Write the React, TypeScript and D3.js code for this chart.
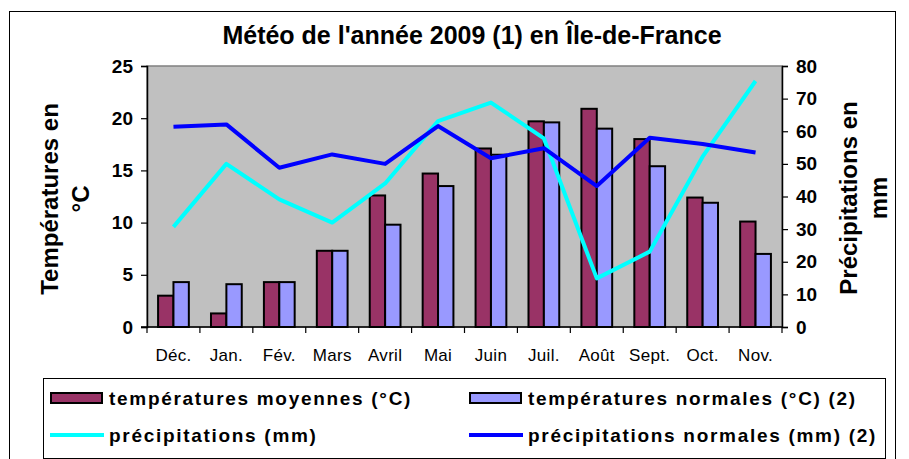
import React, { useEffect, useRef } from 'react';
import * as d3 from 'd3';

const months = ['Déc.', 'Jan.', 'Fév.', 'Mars', 'Avril', 'Mai', 'Juin', 'Juil.', 'Août', 'Sept.', 'Oct.', 'Nov.'];
const tempMoy = [3.0, 1.3, 4.3, 7.3, 12.6, 14.7, 17.1, 19.7, 20.9, 18.0, 12.4, 10.1];
const tempNorm = [4.3, 4.1, 4.3, 7.3, 9.8, 13.5, 16.5, 19.6, 19.0, 15.4, 11.9, 7.0];
const precip = [30.7, 50.0, 39.1, 32.0, 44.0, 63.1, 68.8, 57.8, 14.9, 23.1, 52.2, 75.4];
const precipNorm = [61.4, 62.1, 48.8, 52.9, 50.0, 61.6, 51.7, 54.8, 43.2, 58.0, 56.1, 53.5];
const tempTicks = [0, 5, 10, 15, 20, 25];
const precipTicks = [0, 10, 20, 30, 40, 50, 60, 70, 80];

const FONT = '"Liberation Sans", Arial, sans-serif';

const App: React.FC = () => {
  const svgRef = useRef<SVGSVGElement>(null);

  useEffect(() => {
    if (!svgRef.current) return;
    const svg = d3.select(svgRef.current);
    svg.selectAll('*').remove();

    const plot = { left: 147, right: 782, top: 66, bottom: 327 };

    // chart frame
    svg.append('rect')
      .attr('x', 9.5).attr('y', 11.5).attr('width', 886).attr('height', 460)
      .attr('fill', 'white').attr('stroke', 'black').attr('stroke-width', 1);

    svg.append('text')
      .attr('x', 472).attr('y', 44)
      .attr('text-anchor', 'middle')
      .attr('font-family', FONT).attr('font-weight', 700).attr('font-size', 25)
      .text("Météo de l'année 2009 (1) en Île-de-France");

    const x = d3.scaleBand<string>().domain(months).range([plot.left, plot.right]);
    const xInner = d3.scaleBand<string>().domain(['moy', 'norm'])
      .range([0, x.bandwidth()]).paddingOuter(0.72).paddingInner(0);
    const yT = d3.scaleLinear().domain([0, 25]).range([plot.bottom, plot.top]);
    const yP = d3.scaleLinear().domain([0, 80]).range([plot.bottom, plot.top]);

    // plot area
    svg.append('rect')
      .attr('x', plot.left).attr('y', plot.top)
      .attr('width', plot.right - plot.left).attr('height', plot.bottom - plot.top)
      .attr('fill', '#C0C0C0').attr('stroke', '#808080').attr('stroke-width', 1.5);

    // bars
    const groups = svg.append('g').selectAll('g').data(months).enter().append('g')
      .attr('transform', d => `translate(${x(d)},0)`);
    groups.append('rect')
      .attr('x', xInner('moy')!)
      .attr('y', (_, i) => yT(tempMoy[i]))
      .attr('width', xInner.bandwidth())
      .attr('height', (_, i) => yT(0) - yT(tempMoy[i]))
      .attr('fill', '#993366').attr('stroke', 'black').attr('stroke-width', 2);
    groups.append('rect')
      .attr('x', xInner('norm')!)
      .attr('y', (_, i) => yT(tempNorm[i]))
      .attr('width', xInner.bandwidth())
      .attr('height', (_, i) => yT(0) - yT(tempNorm[i]))
      .attr('fill', '#9999FF').attr('stroke', 'black').attr('stroke-width', 2);

    // lines
    const line = d3.line<number>()
      .x((_, i) => x(months[i])! + x.bandwidth() / 2)
      .y(d => yP(d));
    svg.append('path').datum(precip)
      .attr('fill', 'none').attr('stroke', '#00FFFF').attr('stroke-width', 4)
      .attr('stroke-linejoin', 'round').attr('d', line);
    svg.append('path').datum(precipNorm)
      .attr('fill', 'none').attr('stroke', '#0000FF').attr('stroke-width', 4)
      .attr('stroke-linejoin', 'round').attr('d', line);

    // axes
    const axisLeft = d3.axisLeft(yT).tickValues(tempTicks).tickSize(6).tickPadding(8);
    const gl = svg.append('g').attr('transform', `translate(${plot.left},0)`).call(axisLeft);
    const axisRight = d3.axisRight(yP).tickValues(precipTicks).tickSize(6).tickPadding(8);
    const gr = svg.append('g').attr('transform', `translate(${plot.right},0)`).call(axisRight);
    [gl, gr].forEach(g => {
      g.select('.domain').attr('stroke', 'black').attr('stroke-width', 1.5);
      g.selectAll('line').attr('stroke', 'black').attr('stroke-width', 1.2);
      g.selectAll('text')
        .attr('font-family', FONT).attr('font-weight', 700).attr('font-size', 19)
        .attr('fill', 'black');
    });

    const xEdge = d3.scaleLinear().domain([0, months.length]).range([plot.left, plot.right]);
    const gb = svg.append('g');
    gb.append('line')
      .attr('x1', plot.left - 6).attr('x2', plot.right)
      .attr('y1', plot.bottom).attr('y2', plot.bottom)
      .attr('stroke', 'black').attr('stroke-width', 1.5);
    gb.selectAll('.tk').data(d3.range(months.length + 1)).enter().append('line')
      .attr('x1', d => xEdge(d)).attr('x2', d => xEdge(d))
      .attr('y1', plot.bottom).attr('y2', plot.bottom + 6)
      .attr('stroke', 'black').attr('stroke-width', 1.2);
    gb.selectAll('.lbl').data(months).enter().append('text')
      .attr('x', d => x(d)! + x.bandwidth() / 2)
      .attr('y', 361)
      .attr('text-anchor', 'middle')
      .attr('font-family', FONT).attr('font-size', 17)
      .attr('letter-spacing', 0.3)
      .text(d => d);

    // axis titles
    const leftTitle = svg.append('text')
      .attr('transform', 'rotate(-90)')
      .attr('font-family', FONT).attr('font-weight', 700).attr('font-size', 24)
      .attr('text-anchor', 'middle');
    leftTitle.append('tspan').attr('x', -199).attr('y', 58).text('Températures en');
    leftTitle.append('tspan').attr('x', -199).attr('y', 89).text('°C');

    const rightTitle = svg.append('text')
      .attr('transform', 'rotate(-90)')
      .attr('font-family', FONT).attr('font-weight', 700).attr('font-size', 24)
      .attr('text-anchor', 'middle');
    rightTitle.append('tspan').attr('x', -198).attr('y', 857).text('Précipitations en');
    rightTitle.append('tspan').attr('x', -198).attr('y', 887).text('mm');

    // legend
    const lg = svg.append('g');
    lg.append('rect')
      .attr('x', 43.5).attr('y', 378.5).attr('width', 842).attr('height', 80)
      .attr('fill', 'white').attr('stroke', 'black').attr('stroke-width', 1);
    const items = [
      { label: 'températures moyennes (°C)', color: '#993366', kind: 'bar', col: 0, row: 0 },
      { label: 'températures normales (°C) (2)', color: '#9999FF', kind: 'bar', col: 1, row: 0 },
      { label: 'précipitations (mm)', color: '#00FFFF', kind: 'line', col: 0, row: 1 },
      { label: 'précipitations normales (mm) (2)', color: '#0000FF', kind: 'line', col: 1, row: 1 },
    ];
    const colX = [51, 470];
    const rowY = [398, 435];
    items.forEach(it => {
      const gx = colX[it.col];
      const gy = rowY[it.row];
      if (it.kind === 'bar') {
        lg.append('rect')
          .attr('x', gx).attr('y', gy - 5).attr('width', 51).attr('height', 10)
          .attr('fill', it.color).attr('stroke', 'black').attr('stroke-width', 2);
      } else {
        lg.append('line')
          .attr('x1', gx - 1).attr('x2', gx + 53).attr('y1', gy).attr('y2', gy)
          .attr('stroke', it.color).attr('stroke-width', 4);
      }
      lg.append('text')
        .attr('x', gx + 58).attr('y', gy + 7)
        .attr('font-family', FONT).attr('font-weight', 700).attr('font-size', 19)
        .attr('letter-spacing', 1.7)
        .text(it.label);
    });
  }, []);

  return (
    <svg ref={svgRef} width={909} height={459} viewBox="0 0 909 459"
      style={{ position: 'absolute', left: 0, top: 0, background: 'white' }} />
  );
};

export default App;
